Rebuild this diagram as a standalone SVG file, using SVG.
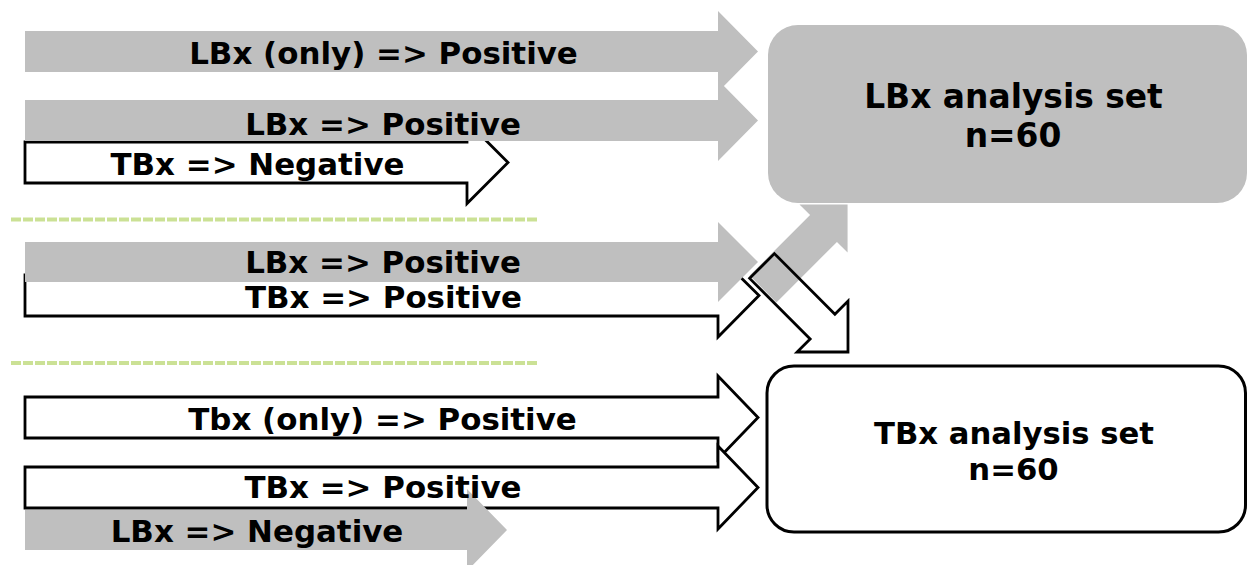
<svg xmlns="http://www.w3.org/2000/svg" width="1248" height="565" viewBox="0 0 1248 565">
  <style>
    .g { fill: #bfbfbf; stroke: none; }
    .w { fill: #ffffff; stroke: #000000; stroke-width: 2.8; stroke-linejoin: miter; }
    .o { fill: none; stroke: #000000; stroke-width: 2.8; stroke-linejoin: miter; }
    .sep { stroke: #cbe195; stroke-width: 4; stroke-dasharray: 10 2; fill: none; }
    .t { font-family: "DejaVu Sans", Verdana, sans-serif; font-weight: bold; fill: #000000; text-anchor: middle; }
    .a { font-size: 30.9px; }
  </style>
  <rect x="0" y="0" width="1248" height="565" fill="#ffffff"/>

  <g id="separators">
    <line class="sep" x1="11" y1="219.5" x2="537" y2="219.5"/>
    <line class="sep" x1="11" y1="363" x2="537" y2="363"/>
  </g>

  <g id="node-lbx-set">
    <rect x="768" y="25" width="479" height="178" rx="30" ry="30" fill="#bfbfbf"/>
    <text class="t" x="1013.5" y="108" font-size="32.9">LBx analysis set</text>
    <text class="t" x="1013" y="147" font-size="32.9">n=60</text>
  </g>

  <g id="node-tbx-set">
    <rect x="767" y="366" width="478.5" height="166" rx="27" ry="27" fill="#ffffff" stroke="#000000" stroke-width="3"/>
    <text class="t" x="1014" y="444" font-size="30.7">TBx analysis set</text>
    <text class="t" x="1013.5" y="480" font-size="30.7">n=60</text>
  </g>

  <g id="connectors">
    <path id="arrow-tbx-neg-top" class="w" d="M25,142 H467 V121.5 L508,162.5 L467,203.5 V183 H25 Z"/>
    <path id="arrow-lbx-only" class="g" d="M25,31 H718 V11 L758,51.5 L718,92 V72 H25 Z"/>
    <path id="arrow-lbx-pos-top" class="g" d="M25,100 H718 V80 L758,120.5 L718,161 V141 H25 Z"/>

    <path id="arrow-tbx-pos-mid" class="w" d="M25,275 H718 V255 L759,295.5 L718,337 V316 H25 Z"/>
    <path id="arrow-lbx-pos-mid" class="g" d="M25,242 H718 V222 L758,262 L718,302 V282 H25 Z"/>
    <path id="arrow-diag-to-lbx" class="g" transform="translate(763,289) rotate(-45)" d="M0,-19 H85.6 V-34 L119.6,0 L85.6,34 V19 H0 Z"/>
    <path id="arrow-diag-to-tbx" class="o" transform="translate(762,266) rotate(45)" d="M0,-17.5 H85.6 V-36 L121.6,0 L85.6,36 V17.5 H0 Z"/>

    <path id="arrow-tbx-only" class="w" d="M25,397 H718 V376 L758,417.5 L718,459 V438 H25 Z"/>
    <path id="arrow-tbx-pos-bot" class="w" d="M25,467 H718 V446 L758,487.5 L718,529 V508 H25 Z"/>
    <path id="arrow-lbx-neg-bot" class="g" d="M25,510 H467 V489 L507,530 L467,571 V550 H25 Z"/>
  </g>

  <g id="labels">
    <text class="t a" x="383.5" y="64">LBx (only) =&gt; Positive</text>
    <text class="t a" x="383" y="135">LBx =&gt; Positive</text>
    <text class="t a" x="257.5" y="174.5">TBx =&gt; Negative</text>
    <text class="t a" x="383" y="273">LBx =&gt; Positive</text>
    <text class="t a" x="383.5" y="308">TBx =&gt; Positive</text>
    <text class="t a" x="382.5" y="430">Tbx (only) =&gt; Positive</text>
    <text class="t a" x="383" y="498">TBx =&gt; Positive</text>
    <text class="t a" x="257" y="542">LBx =&gt; Negative</text>
  </g>
</svg>
